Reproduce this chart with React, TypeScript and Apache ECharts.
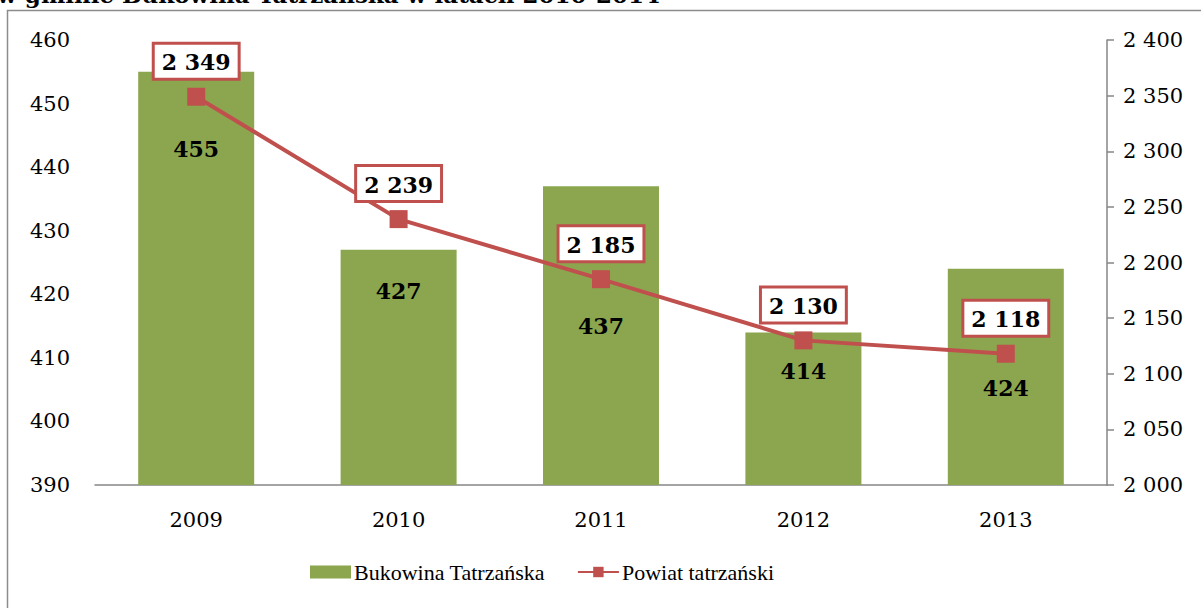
import React, { useEffect, useRef } from "react";
import * as echarts from "echarts";

const years = ["2009", "2010", "2011", "2012", "2013"];
const gminaValues = [455, 427, 437, 414, 424];
const powiatValues = [2349, 2239, 2185, 2130, 2118];
const leftTicks = { min: 390, max: 460, interval: 10 };
const rightTicks = { min: 2000, max: 2400, interval: 50 };
const barLabelOffsets = [61, 25, 124, 23, 103];

const titleText = "w gminie Bukowina Tatrzańska w latach 2010-2014";

const fmt = (v: number) => {
  const s = String(Math.round(v));
  return s.replace(/\B(?=(\d{3})+(?!\d))/g, " ");
};

const NUM_FONT = "DejaVu Serif";
const TXT_FONT = "Liberation Serif";
const GREEN = "#8BA64F";
const RED = "#C0504D";

export default function App() {
  const ref = useRef<HTMLDivElement>(null);
  useEffect(() => {
    if (!ref.current) return;
    const chart = echarts.init(ref.current, undefined, { renderer: "svg" });
    chart.setOption({
      animation: false,
      backgroundColor: "#fff",
      graphic: [
        {
          type: "rect",
          shape: { x: 7.5, y: 10.5, width: 1400, height: 800 },
          style: { fill: "none", stroke: "#8c8c8c", lineWidth: 1.5 },
          silent: true,
        },
        {
          type: "text",
          x: -3,
          y: -17,
          style: {
            text: titleText,
            font: "bold 23px 'DejaVu Serif'",
            fill: "#000",
          },
          silent: true,
        },
      ],
      grid: { left: 95, right: 94, top: 40, bottom: 123 },
      legend: {
        bottom: 20,
        left: 305,
        itemGap: 32,
        itemWidth: 41,
        itemHeight: 13,
        textStyle: { fontFamily: TXT_FONT, fontSize: 22, color: "#000", padding: [0, 0, 0, -2] },
        data: [
          { name: "Bukowina Tatrzańska", icon: "rect" },
          { name: "Powiat tatrzański" },
        ],
      },
      xAxis: {
        type: "category",
        data: years,
        axisLine: { lineStyle: { color: "#868686", width: 1.5 } },
        axisTick: { show: false },
        axisLabel: { fontFamily: NUM_FONT, fontSize: 21, color: "#000", margin: 24 },
      },
      yAxis: [
        {
          type: "value",
          min: leftTicks.min,
          max: leftTicks.max,
          interval: leftTicks.interval,
          splitLine: { show: false },
          axisLine: { show: false },
          axisTick: { show: false },
          axisLabel: { fontFamily: NUM_FONT, fontSize: 21, color: "#000", margin: 25 },
        },
        {
          type: "value",
          position: "right",
          min: rightTicks.min,
          max: rightTicks.max,
          interval: rightTicks.interval,
          splitLine: { show: false },
          axisLine: { show: true, lineStyle: { color: "#868686", width: 1.5 } },
          axisTick: { show: true, length: 7, lineStyle: { color: "#868686", width: 1.5 } },
          axisLabel: {
            fontFamily: NUM_FONT,
            fontSize: 21,
            color: "#000",
            margin: 16,
            formatter: (v: number) => fmt(v),
          },
        },
      ],
      series: [
        {
          name: "Bukowina Tatrzańska",
          type: "bar",
          yAxisIndex: 0,
          barWidth: 116,
          itemStyle: { color: GREEN },
          data: gminaValues.map((v, i) => ({
            value: v,
            label: { offset: [0, barLabelOffsets[i]] },
          })),
          label: {
            show: true,
            position: "insideTop",
            distance: 5,
            fontFamily: NUM_FONT,
            fontWeight: "bold",
            fontSize: 22,
            color: "#000",
          },
        },
        {
          name: "Powiat tatrzański",
          type: "line",
          yAxisIndex: 1,
          data: powiatValues,
          symbol: "rect",
          symbolSize: 18,
          lineStyle: { color: RED, width: 4 },
          itemStyle: { color: RED },
          label: {
            show: true,
            position: "top",
            distance: 10,
            formatter: (p: any) => fmt(p.value),
            fontFamily: NUM_FONT,
            fontWeight: "bold",
            fontSize: 22,
            lineHeight: 25,
            color: "#000",
            backgroundColor: "#fff",
            borderColor: RED,
            borderWidth: 3,
            padding: [5, 7, 3, 7],
          },
        },
      ],
    });
    return () => chart.dispose();
  }, []);
  return (
    <div
      ref={ref}
      style={{ position: "absolute", left: 0, top: 0, width: 1201, height: 608 }}
    />
  );
}
